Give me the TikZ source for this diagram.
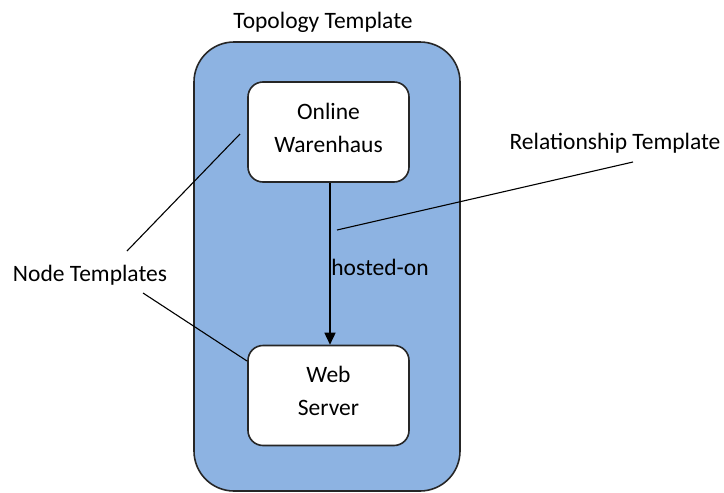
\documentclass[tikz,border=0pt]{standalone}
\usepackage{fontspec}
\setmainfont{Carlito}
\usetikzlibrary{arrows.meta}
\definecolor{topofill}{HTML}{8DB3E2}
\definecolor{edgegray}{HTML}{262626}
\tikzset{
  x=1pt, y=-1pt,
  label text/.style={font=\fontsize{23.5}{33}\selectfont, inner sep=0pt, text=black},
  template box/.style={draw=edgegray, line width=1.6pt, fill=white, rounded corners=15pt,
    minimum width=161pt, minimum height=100pt, inner sep=0pt},
  box text/.style={label text, align=center},
  pointer/.style={draw=black, line width=1.1pt},
}
\begin{document}
\begin{tikzpicture}
\useasboundingbox (0,0) rectangle (724,493);
% topology container
\draw[draw=edgegray, line width=1.6pt, fill=topofill, rounded corners=40pt] (194,42) rectangle (460,491);
\node[label text] (topo) at (323,22) {Topology Template};
% node templates
\node[template box] (shop) at (328.5,132) {};
\node[box text] (shoptext) at ([yshift=4pt]shop.center) {Online\\Warenhaus};
\node[template box] (web) at (328.5,395.5) {};
\node[box text] (webtext) at ([yshift=5pt]web.center) {Web\\Server};
% relationship
\draw[line width=1.6pt, -{Triangle[length=12pt,width=11pt]}] (shop.south -| 330,0) -- (web.north -| 330,0);
\node[label text] (hosted) at (380,267) {hosted-on};
\node[label text] (rel) at (615,143) {Relationship Template};
\node[label text] (nt) at (90,275) {Node Templates};
% callout lines
\coordinate (relA) at (633,162);
\coordinate (relB) at (337,230);
\draw[pointer] (relA) -- (relB);
\coordinate (ntA) at (127,251);
\coordinate (ntB) at (240,134);
\draw[pointer] (ntA) -- (ntB);
\coordinate (ntC) at (143,293);
\coordinate (ntD) at (247,361);
\draw[pointer] (ntC) -- (ntD);
\end{tikzpicture}
\end{document}
